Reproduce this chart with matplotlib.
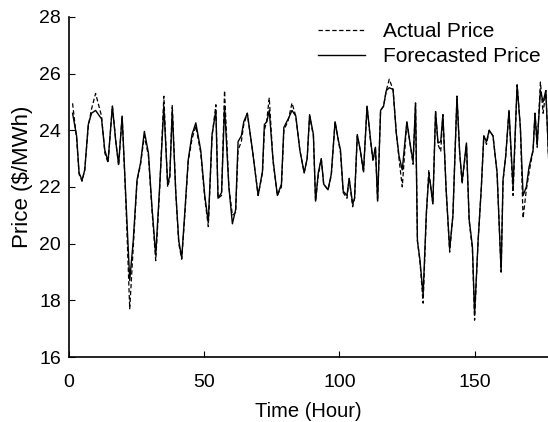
import matplotlib
matplotlib.use("Agg")
import matplotlib.pyplot as plt

plt.rcParams['font.family'] = ['Liberation Sans', 'DejaVu Sans']

time_hr = [1.5, 3.0, 3.9, 5.0, 6.0, 7.3, 8.5, 10.0, 12.2, 13.4, 14.6, 16.2, 17.5, 18.5, 19.8,
           21.2, 22.6, 23.9, 25.3, 26.6, 28.0, 29.5, 30.8, 32.2, 33.7, 35.2, 36.6, 37.4, 38.3,
           39.6, 40.7, 41.8, 43.0, 44.2, 45.6, 47.0, 48.8, 50.3, 51.6, 53.0, 54.4, 55.2, 56.5,
           57.6, 59.2, 60.5, 61.7, 62.6, 63.8, 64.7, 66.0, 67.9, 70.0, 71.6, 72.3, 73.2, 74.1,
           75.5, 77.1, 78.6, 79.5, 81.1, 82.5, 83.9, 85.4, 87.0, 88.1, 89.0, 90.4, 91.2, 92.2,
           93.3, 94.2, 95.8, 97.0, 98.4, 99.5, 100.4, 101.4, 102.8, 103.6, 104.9, 105.6, 106.6,
           107.7, 108.9, 110.2, 111.5, 112.4, 113.3, 114.1, 115.2, 116.3, 117.3, 118.4, 119.8,
           121.0, 122.0, 123.2, 124.9, 126.3, 127.2, 128.1, 128.8, 129.7, 130.9, 132.1, 133.0,
           133.6, 134.5, 135.5, 136.4, 137.4, 138.2, 139.4, 140.7, 141.9, 143.4, 144.4, 145.3,
           146.9, 147.9, 149.1, 149.9, 151.2, 152.4, 153.3, 154.3, 155.3, 156.7, 158.2, 159.7,
           160.4, 161.4, 162.6, 164.1, 165.6, 166.8, 167.8, 169.0, 170.0, 171.5, 172.2, 173.0,
           174.2, 175.2, 176.2, 177.2]

forecast = [24.6, 23.8, 22.5, 22.24, 22.6, 24.2, 24.6, 24.7, 24.4, 23.3, 22.9, 24.85, 23.55, 22.8, 24.5,
            21.55, 18.7, 20.1, 22.25, 22.85, 23.96, 23.2, 21.3, 19.6, 22.1, 24.85, 22.1, 22.4, 24.7,
            21.8, 20.1, 19.5, 21.2, 22.96, 23.85, 24.26, 23.3, 21.7, 20.75, 23.85, 24.7, 21.6, 21.8,
            24.85, 22.0, 20.7, 21.2, 23.6, 23.8, 24.3, 24.6, 23.3, 21.7, 22.55, 24.2, 24.3, 24.7,
            22.96, 21.7, 22.1, 24.1, 24.4, 24.7, 24.5, 23.3, 22.5, 23.0, 24.55, 23.85, 21.5, 22.5,
            23.0, 22.1, 21.9, 22.45, 24.3, 23.7, 23.3, 21.85, 21.7, 22.3, 21.4, 21.6, 23.85,
            23.3, 22.55, 24.85, 23.67, 22.96, 23.4, 21.5, 24.7, 24.85, 25.4, 25.5, 25.44,
            23.9, 23.1, 22.6, 24.3, 23.4, 22.9, 24.96, 20.1, 19.45, 18.2, 21.1, 22.4,
            22.1, 21.4, 24.66, 23.55, 23.6, 24.55, 21.9, 19.8, 21.0, 25.2, 23.2, 22.2,
            23.55, 20.85, 19.9, 17.5, 20.1, 22.0, 23.8, 23.6, 24.0, 23.8, 22.5, 19.0,
            22.25, 23.1, 24.7, 22.0, 25.6, 24.1, 21.7, 22.0, 22.7, 23.3, 24.6, 23.5,
            25.4, 25.0, 25.4, 23.1]

actual = [24.95, 23.7, 22.45, 22.2, 22.6, 24.15, 24.75, 25.3, 24.5, 23.2, 22.85, 24.85, 23.6, 22.75, 24.5,
          21.4, 17.7, 19.9, 22.2, 22.8, 23.8, 23.1, 21.2, 19.4, 22.0, 25.2, 22.0, 22.3, 24.9,
          21.8, 20.0, 19.45, 21.1, 22.9, 23.7, 24.15, 23.2, 21.6, 20.6, 23.8, 24.9, 21.6, 21.7,
          25.4, 22.0, 21.0, 21.1, 23.3, 23.6, 24.2, 24.6, 23.3, 21.7, 22.5, 24.0, 24.35, 25.15,
          22.9, 21.7, 22.0, 24.0, 24.35, 24.96, 24.5, 23.3, 22.5, 23.0, 24.5, 23.8, 21.5, 22.4,
          23.0, 22.1, 21.9, 22.4, 24.3, 23.7, 23.2, 21.8, 21.6, 22.3, 21.3, 21.6, 23.8,
          23.3, 22.5, 24.85, 23.6, 22.9, 23.4, 21.5, 24.7, 24.85, 25.4, 25.8, 25.44,
          23.9, 23.0, 22.0, 24.3, 23.4, 22.8, 24.96, 20.1, 19.4, 17.9, 21.0, 22.6,
          22.1, 21.4, 24.66, 23.5, 23.25, 24.55, 21.9, 19.7, 21.0, 25.2, 23.2, 22.1,
          23.5, 20.8, 19.8, 17.3, 20.1, 22.0, 23.8, 23.5, 24.0, 23.8, 22.5, 19.0,
          22.2, 23.1, 24.7, 21.7, 25.6, 24.1, 20.9, 21.9, 22.5, 23.3, 24.6, 23.4,
          25.7, 24.6, 25.4, 23.0]

x_ticks = [0, 50, 100, 150]
y_ticks = [16, 18, 20, 22, 24, 26, 28]

fig = plt.figure(figsize=(5.48, 4.22), dpi=100)
ax = fig.add_axes([0.125, 0.154, 0.875, 0.806])

ax.plot(time_hr, actual, color='black', linewidth=0.9, linestyle=(0, (3.5, 2)), label='Actual Price')
ax.plot(time_hr, forecast, color='black', linewidth=1.0, linestyle='-', label='Forecasted Price')

ax.set_xlim(0, 177)
ax.set_ylim(16, 28)
ax.set_xticks(x_ticks)
ax.set_yticks(y_ticks)
ax.tick_params(direction='in', length=4, width=0.8, labelsize=14)
ax.tick_params(axis='x', pad=12)
ax.tick_params(axis='y', pad=5.5)
ax.spines['top'].set_visible(False)
ax.spines['right'].set_visible(False)
for s in ('left', 'bottom'):
    ax.spines[s].set_linewidth(1.2)

ax.set_xlabel('Time (Hour)', fontsize=14.5)
ax.xaxis.set_label_coords(0.5, -0.132)
ax.set_ylabel('Price ($/MWh)', fontsize=16)
ax.yaxis.set_label_coords(-0.075, 0.53)

ax.legend(loc='upper left', bbox_to_anchor=(0.58, 0.948), bbox_transform=fig.transFigure,
          frameon=False, fontsize=15, borderpad=0, borderaxespad=0,
          handlelength=2.26, handletextpad=0.87, labelspacing=0.29)

fig.savefig('out.png', dpi=100)
